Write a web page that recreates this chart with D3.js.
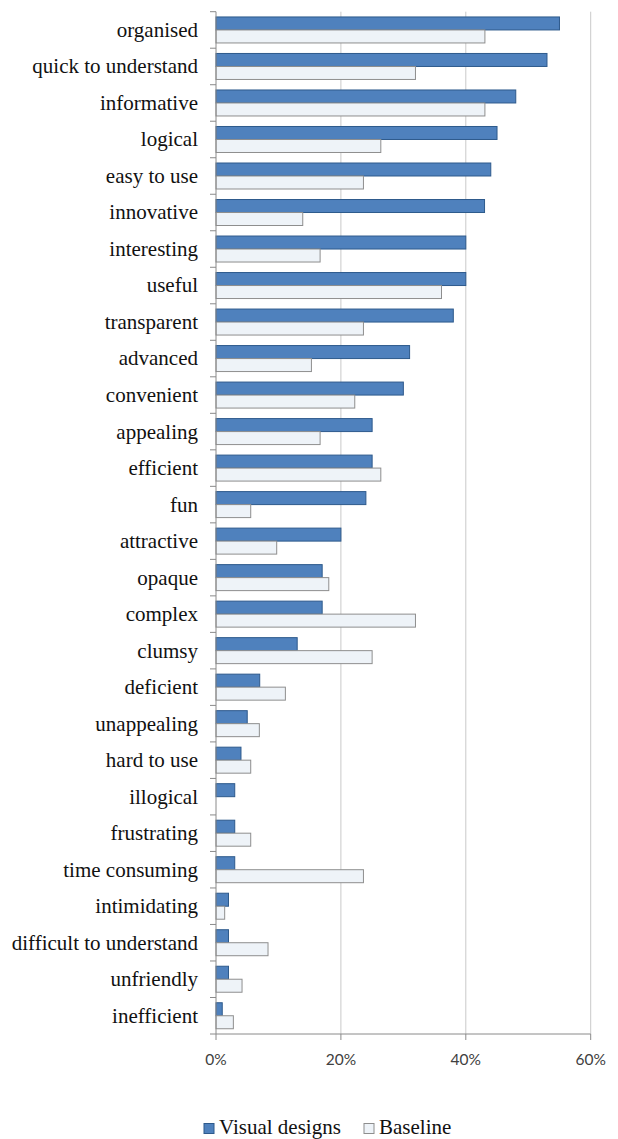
<!DOCTYPE html>
<html>
<head>
<meta charset="utf-8">
<script src="https://cdn.jsdelivr.net/npm/d3@7"></script>
<style>
  html, body { margin: 0; padding: 0; background: #fff; }
  svg { display: block; }
</style>
</head>
<body>
<svg id="chart" width="618" height="1139"></svg>
<script>
const categories = ["organised","quick to understand","informative","logical","easy to use","innovative","interesting","useful","transparent","advanced","convenient","appealing","efficient","fun","attractive","opaque","complex","clumsy","deficient","unappealing","hard to use","illogical","frustrating","time consuming","intimidating","difficult to understand","unfriendly","inefficient"];
const seriesNames = ["Visual designs","Baseline"];
const visualDesigns = [55,53,48,45,44,43,40,40,38,31,30,25,25,24,20,17,17,13,7,5,4,3,3,3,2,2,2,1];
const baseline = [43.06,31.94,43.06,26.39,23.61,13.89,16.67,36.11,23.61,15.28,22.22,16.67,26.39,5.56,9.72,18.06,31.94,25.00,11.11,6.94,5.56,0,5.56,23.61,1.39,8.33,4.17,2.78];
const xTicks = [0,20,40,60];

(function(){
const svg = d3.select("#chart");
const pLeft = 216, pRight = 590.7, pTop = 11.7, pBottom = 1034;

const x = d3.scaleLinear().domain([0,60]).range([pLeft,pRight]);
const y0 = d3.scaleBand().domain(categories).range([pTop,pBottom]).padding(0);
const step = y0.step();
const y1 = d3.scaleBand().domain(seriesNames).range([step*0.144, step*0.856]).padding(0);

const fills = {"Visual designs":"#4F81BD","Baseline":"#EEF3F8"};
const strokes = {"Visual designs":"#2E5A8C","Baseline":"#8E8E8E"};

// gridlines
svg.append("g").selectAll("line").data(xTicks.filter(d=>d>0)).join("line")
  .attr("x1",d=>x(d)).attr("x2",d=>x(d)).attr("y1",pTop).attr("y2",pBottom)
  .attr("stroke","#C9C9C9").attr("stroke-width",1);

// bars
const rows = categories.map((c,i)=>({cat:c, vals:[{s:"Visual designs",v:visualDesigns[i]},{s:"Baseline",v:baseline[i]}]}));
const g = svg.append("g");
const grp = g.selectAll("g").data(rows).join("g").attr("transform",d=>`translate(0,${y0(d.cat)})`);
grp.selectAll("rect").data(d=>d.vals.filter(e=>e.v>0)).join("rect")
  .attr("x",x(0)).attr("y",d=>y1(d.s)).attr("width",d=>x(d.v)-x(0)).attr("height",y1.bandwidth())
  .attr("fill",d=>fills[d.s]).attr("stroke",d=>strokes[d.s]).attr("stroke-width",1);

// y axis line and ticks
const ax = svg.append("g").attr("stroke","#8A8A8A").attr("stroke-width",1);
ax.append("line").attr("x1",pLeft).attr("x2",pLeft).attr("y1",pTop).attr("y2",pBottom);
const bounds = categories.map(c=>y0(c)).concat([pBottom]);
ax.selectAll("line.t").data(bounds).join("line").attr("class","t")
  .attr("x1",pLeft-6).attr("x2",pLeft).attr("y1",d=>d).attr("y2",d=>d);
// x axis line and ticks
ax.append("line").attr("x1",pLeft).attr("x2",pRight).attr("y1",pBottom).attr("y2",pBottom);
ax.selectAll("line.xt").data(xTicks).join("line").attr("class","xt")
  .attr("x1",d=>x(d)).attr("x2",d=>x(d)).attr("y1",pBottom).attr("y2",pBottom+6);

// category labels
svg.append("g").selectAll("text").data(categories).join("text")
  .attr("x",198).attr("y",d=>y0(d)+step/2).attr("dy","0.33em")
  .attr("text-anchor","end")
  .style("font-family","'Liberation Serif','Times New Roman',serif").style("font-size","21px").attr("fill","#111")
  .text(d=>d);

// x tick labels
svg.append("g").selectAll("text").data(xTicks).join("text")
  .attr("x",d=>x(d)).attr("y",1065).attr("text-anchor","middle")
  .style("font-family","Lato, 'Liberation Sans', sans-serif").style("font-size","15.5px").attr("fill","#404040")
  .text(d=>d+"%");

// legend
const legendItems = [{s:"Visual designs",x:204},{s:"Baseline",x:364}];
const lg = svg.append("g");
const li = lg.selectAll("g").data(legendItems).join("g").attr("transform",d=>`translate(${d.x},1123.5)`);
li.append("rect").attr("width",10).attr("height",10).attr("fill",d=>fills[d.s]).attr("stroke",d=>strokes[d.s]).attr("stroke-width",1);
li.append("text").attr("x",15).attr("y",10.5)
  .style("font-family","'Liberation Serif','Times New Roman',serif").style("font-size","21px").attr("fill","#111")
  .text(d=>d.s);
})();
</script>
</body>
</html>
